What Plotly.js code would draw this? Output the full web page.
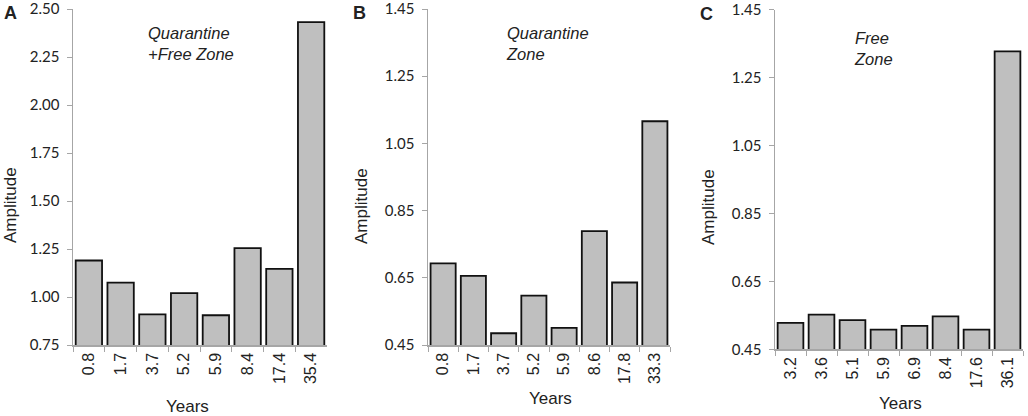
<!DOCTYPE html>
<html>
<head>
<meta charset="utf-8">
<script src="https://cdn.plot.ly/plotly-3.0.1.min.js"></script>
<style>
  html, body { margin: 0; padding: 0; background: #fff; }
  #chart { width: 1028px; height: 416px; }
</style>
</head>
<body>
<div id="chart"></div>
<script>
// periods (years) and amplitudes
const yearsA = ["0.8", "1.7", "3.7", "5.2", "5.9", "8.4", "17.4", "35.4"];
const ampA = [1.19, 1.075, 0.91, 1.02, 0.905, 1.255, 1.147, 2.432];

const yearsB = ["0.8", "1.7", "3.7", "5.2", "5.9", "8.6", "17.8", "33.3"];
const ampB = [0.693, 0.656, 0.485, 0.597, 0.501, 0.789, 0.636, 1.116];

const yearsC = ["3.2", "3.6", "5.1", "5.9", "6.9", "8.4", "17.6", "36.1"];
const ampC = [0.528, 0.552, 0.536, 0.508, 0.519, 0.547, 0.508, 1.327];

// amplitude tick values
const ticksA = [0.75, 1.00, 1.25, 1.50, 1.75, 2.00, 2.25, 2.50];
const ticksBC = [0.45, 0.65, 0.85, 1.05, 1.25, 1.45];

const W = 1028, H = 416;
const px = (x) => x / W;
const py = (y) => 1 - y / H;

const barStyle = {
  "type": "bar",
  "marker": { "color": "#bfbfbf", "line": { "color": "#111", "width": 1.8 } },
  "hoverinfo": "x+y",
  "showlegend": false
};

const traces = [
  Object.assign({}, barStyle, { "x": yearsA, "y": ampA, "xaxis": "x", "yaxis": "y" }),
  Object.assign({}, barStyle, { "x": yearsB, "y": ampB, "xaxis": "x2", "yaxis": "y2" }),
  Object.assign({}, barStyle, { "x": yearsC, "y": ampC, "xaxis": "x3", "yaxis": "y3" })
];

function xAxis(domain, anchor) {
  return {
    "domain": domain,
    "anchor": anchor,
    "type": "category",
    "range": [-0.5, 7.5],
    "showline": true,
    "linecolor": "#a6a6a6",
    "linewidth": 1.5,
    "ticks": "outside",
    "tickson": "boundaries",
    "ticklen": 5,
    "tickcolor": "#a6a6a6",
    "tickangle": -90,
    "tickfont": { "family": "Liberation Sans, Arial, sans-serif", "size": 16, "color": "#222" },
    "showgrid": false,
    "zeroline": false,
    "fixedrange": true
  };
}

function yAxis(domain, anchor, ticks) {
  return {
    "domain": domain,
    "anchor": anchor,
    "range": [ticks[0], ticks[ticks.length - 1] + 1e-4],
    "tickmode": "array",
    "tickvals": ticks,
    "ticktext": ticks.map((v) => v.toFixed(2)),
    "ticklabeloverflow": "allow",
    "showline": true,
    "linecolor": "#a6a6a6",
    "linewidth": 1.5,
    "ticks": "outside",
    "ticklen": 5,
    "tickcolor": "#a6a6a6",
    "ticklabelstandoff": 4,
    "tickfont": { "family": "Lato, Liberation Sans, sans-serif", "size": 15, "color": "#222" },
    "showgrid": false,
    "zeroline": false,
    "fixedrange": true
  };
}

const textFont = { "family": "Liberation Sans, Arial, sans-serif", "size": 16.5, "color": "#222" };
const titleFont = { "family": "Liberation Sans, Arial, sans-serif", "size": 17, "color": "#222" };
const letterFont = { "family": "Liberation Sans, Arial, sans-serif", "size": 18, "color": "#222" };

function note(text, x, y, opts) {
  return Object.assign({
    "text": text, "xref": "paper", "yref": "paper",
    "x": px(x), "y": py(y), "showarrow": false, "font": textFont,
    "xanchor": "center", "yanchor": "middle"
  }, opts || {});
}

const corner = { "xanchor": "left", "yanchor": "top", "align": "left" };

const annotations = [
  note("<b>A</b>", 2, 1, Object.assign({ "font": letterFont }, corner)),
  note("<b>B</b>", 351, 1, Object.assign({ "font": letterFont }, corner)),
  note("<b>C</b>", 698, 2, Object.assign({ "font": letterFont }, corner)),

  note("<i>Quarantine<br>+Free Zone</i>", 146, 22, corner),
  note("<i>Quarantine<br>Zone</i>", 504, 22, corner),
  note("<i>Free<br>Zone</i>", 852, 27, corner),

  note("Amplitude", 10, 205, { "textangle": -90, "font": titleFont }),
  note("Amplitude", 361, 206, { "textangle": -90, "font": titleFont }),
  note("Amplitude", 708, 207, { "textangle": -90, "font": titleFont }),

  note("Years", 187, 406, { "font": titleFont }),
  note("Years", 550, 398, { "font": titleFont }),
  note("Years", 900, 403, { "font": titleFont })
];

const layout = {
  "width": W,
  "height": H,
  "margin": { "l": 0, "r": 0, "t": 0, "b": 0 },
  "paper_bgcolor": "#fff",
  "plot_bgcolor": "#fff",
  "bargap": 0.17,
  "showlegend": false,
  "xaxis": xAxis([px(73), px(327)], "y"),
  "yaxis": yAxis([py(345), py(9)], "x", ticksA),
  "xaxis2": xAxis([px(428), px(670)], "y2"),
  "yaxis2": yAxis([py(345), py(9)], "x2", ticksBC),
  "xaxis3": xAxis([px(775), px(1023)], "y3"),
  "yaxis3": yAxis([py(349.3), py(9.5)], "x3", ticksBC),
  "annotations": annotations
};

Plotly.newPlot("chart", traces, layout, { "displayModeBar": false, "staticPlot": true });
</script>
</body>
</html>
